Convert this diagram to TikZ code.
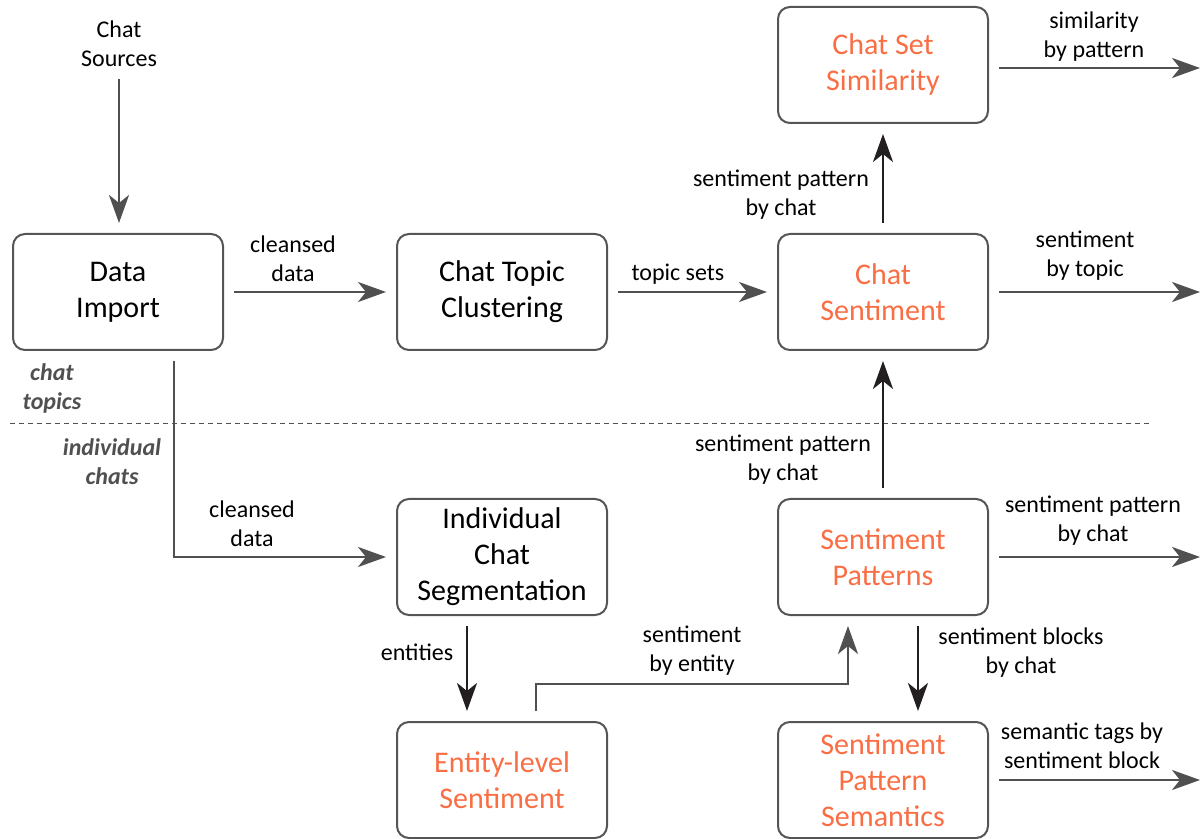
\documentclass[tikz,border=0pt]{standalone}
\usepackage{fontspec}
\setmainfont{Carlito}
\usetikzlibrary{arrows.meta,positioning}
\definecolor{boxline}{HTML}{555555}
\definecolor{procorange}{HTML}{F96E44}
\definecolor{arrgray}{HTML}{505050}
\definecolor{arrdark}{HTML}{231F20}

\begin{document}
\begin{tikzpicture}[x=0.5pt, y=-0.5pt,
  box/.style={draw=boxline, line width=1pt, rounded corners=6pt, align=center,
              minimum width=105pt, minimum height=58pt, inner sep=2pt,
              font=\fontsize{15}{18}\selectfont},
  hot/.style={box, text=procorange},
  lbl/.style={align=center, font=\fontsize{12}{14.5}\selectfont, inner sep=1pt},
  side/.style={align=center, font=\fontsize{12}{14.5}\selectfont\bfseries\itshape,
               text=arrgray, inner sep=1pt},
  arr/.style={-{Stealth[length=14pt, width=10pt, inset=4pt]}, line width=1.4pt,
              draw=arrgray, shorten <=5pt, shorten >=5pt},
  darr/.style={arr, draw=arrdark},
  split/.style={draw=arrgray, line width=0.5pt, dash pattern=on 2.5pt off 2pt}
]
\useasboundingbox (0,0) rectangle (1200,839);

% process boxes
\node[lbl] (src) at (119,44) {Chat\\Sources};
\node[box] (imp) at (118,292) {Data\\Import};
\node[box] (clu) at (502,292) {Chat Topic\\Clustering};
\node[hot] (sent) at (883,292) {Chat\\Sentiment};
\node[hot] (sim) at (883,65) {Chat Set\\Similarity};
\node[box] (seg) at (502,557) {Individual\\Chat\\Segmentation};
\node[hot] (pat) at (883,557) {Sentiment\\Patterns};
\node[hot] (ent) at (502,780) {Entity-level\\Sentiment};
\node[hot] (sem) at (883,780) {Sentiment\\Pattern\\Semantics};

% outputs leaving the picture
\coordinate (simout) at (1200,68);
\coordinate (sentout) at (1200,292);
\coordinate (patout) at (1200,557);
\coordinate (semout) at (1200,780);

% split between the two levels
\draw[split] (10,424) -- (1152,424);
\node[side] (topiclvl) at (52,388) {chat\\topics};
\node[side] (chatlvl) at (112,462) {individual\\chats};

% flows
\draw[arr] (src.south) -- (src.south |- imp.north);
\draw[arr] (imp) -- (clu);
\draw[arr] (clu) -- (sent);
\draw[darr] (sent) -- (sim);
\draw[darr] (pat) -- (sent);
\draw[arr, shorten >=0pt] (sim.east |- simout) -- (simout);
\draw[arr, shorten >=0pt] (sent) -- (sentout);
\draw[arr, shorten >=0pt] (pat) -- (patout);
\draw[arr, shorten >=0pt] (sem) -- (semout);
\draw[arr] ([xshift=28pt]imp.south) |- (seg.west);
\draw[darr] ([xshift=-17.5pt]seg.south) -- ([xshift=-17.5pt]ent.north);
\draw[arr] ([xshift=17pt]ent.north) -- ([xshift=17pt, yshift=18.5pt]ent.north)
  -| ([xshift=-17.5pt]pat.south);
\draw[darr] ([xshift=17.5pt]pat.south) -- ([xshift=17.5pt]sem.north);

% flow labels
\node[lbl] (l1) at (293,259) {cleansed\\data};
\node[lbl] (l2) at (678,274) {topic sets};
\node[lbl] (l3) at (1085,256) {sentiment\\by topic};
\node[lbl] (l4) at (1094,37) {similarity\\by pattern};
\node[lbl] (l5) at (781,195) {sentiment pattern\\by chat};
\node[lbl] (l6) at (783,460) {sentiment pattern\\by chat};
\node[lbl] (l7) at (252,524) {cleansed\\data};
\node[lbl] (l8) at (417,652) {entities};
\node[lbl] (l9) at (692,651) {sentiment\\by entity};
\node[lbl] (l10) at (1021,653) {sentiment blocks\\by chat};
\node[lbl] (l11) at (1093,521) {sentiment pattern\\by chat};
\node[lbl] (l12) at (1082,746) {semantic tags by\\sentiment block};
\end{tikzpicture}
\end{document}
